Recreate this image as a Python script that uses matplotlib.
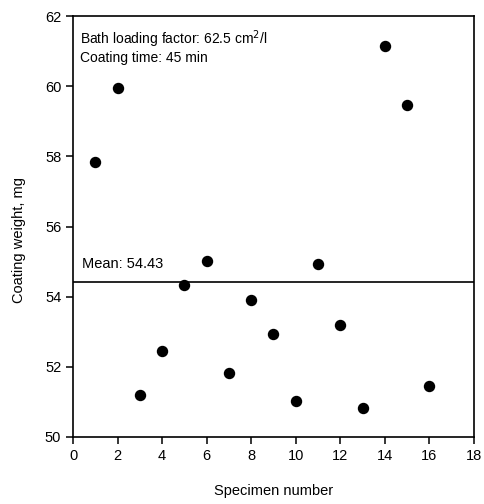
import matplotlib
matplotlib.use("Agg")
import matplotlib.pyplot as plt

# Coating weight of each specimen
specimen = [1, 2, 3, 4, 5, 6, 7, 8, 9, 10, 11, 12, 13, 14, 15, 16]
weight_mg = [57.83, 59.95, 51.21, 52.44, 54.33, 55.03, 51.83, 53.91,
             52.93, 51.02, 54.93, 53.20, 50.84, 61.14, 59.47, 51.46]
mean_weight = 54.43

x_ticks = [0, 2, 4, 6, 8, 10, 12, 14, 16, 18]
y_ticks = [50, 52, 54, 56, 58, 60, 62]

plt.rcParams["font.family"] = ["Liberation Sans", "DejaVu Sans"]
plt.rcParams["font.size"] = 10

fig = plt.figure(figsize=(4.84, 5.04), dpi=100)
ax = fig.add_axes([0.151, 0.133, 0.828, 0.835])

ax.plot(specimen, weight_mg, "o", color="black", markersize=7.2, linestyle="none")
ax.axhline(mean_weight, color="black", linewidth=1.2)

ax.set_xlim(0, 18)
ax.set_ylim(50, 62)
ax.set_xticks(x_ticks)
ax.set_yticks(y_ticks)
ax.tick_params(direction="out", length=5, width=1.1, labelsize=10.5)
for s in ax.spines.values():
    s.set_linewidth(1.2)

ax.set_xlabel("Specimen number", fontsize=10.5)
ax.set_ylabel("Coating weight, mg", fontsize=10.5)
ax.xaxis.set_label_coords(0.5, -0.112)
ax.yaxis.set_label_coords(-0.117, 0.468)

ax.text(0.3, 61.35, "Bath loading factor: 62.5 cm$^2$/l", fontsize=10, va="center")
ax.text(0.3, 60.8, "Coating time: 45 min", fontsize=10, va="center")
ax.text(0.4, mean_weight + 0.5, "Mean: %.2f" % mean_weight, fontsize=10.5, va="center")

fig.savefig("out.png", dpi=100)
